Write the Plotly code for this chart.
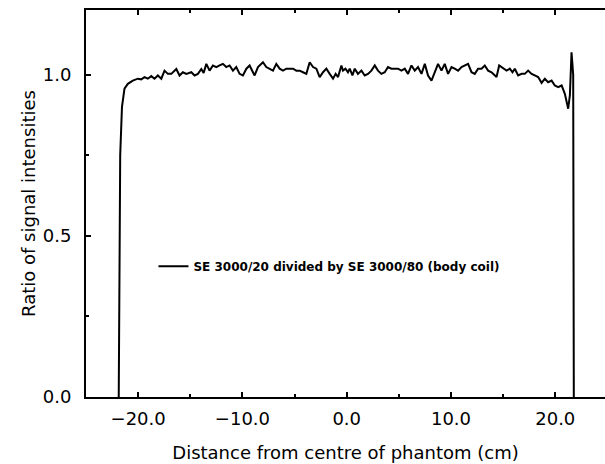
import plotly.graph_objects as go

# Distance from centre of phantom (cm)
distance_cm = [
    -21.86, -21.72, -21.55, -21.31, -20.99, -20.51, -20.03, -19.70, -19.39, -19.07,
    -18.74, -18.43, -18.11, -17.78, -17.47, -17.15, -16.82, -16.34, -16.03, -15.71,
    -15.38, -14.90, -14.59, -14.27, -13.94, -13.72, -13.46,
    -13.15, -12.83, -12.50, -12.19, -11.87, -11.55, -11.23, -10.91, -10.59, -10.27,
    -9.95, -9.62, -9.31, -8.99, -8.83, -8.51, -8.03, -7.71, -7.39, -7.07,
    -6.75, -6.43, -6.11, -5.79, -5.47, -5.15, -4.83,
    -4.51, -4.19, -3.87, -3.55, -3.23, -2.91, -2.59, -2.27, -1.95, -1.63,
    -1.31, -1.06, -0.83, -0.51, -0.36, -0.12, 0.12, 0.29, 0.55, 0.77,
    1.08, 1.41, 1.73, 2.04, 2.37, 2.69, 3.00, 3.33, 3.65, 3.96, 4.29,
    4.61, 4.92, 5.25, 5.57, 5.88, 6.21, 6.53, 6.84, 7.17, 7.49,
    7.80, 8.13, 8.45, 8.76, 9.09, 9.40, 9.72, 10.05, 10.36, 10.68,
    11.01, 11.32, 11.64, 11.97, 12.28, 12.60, 12.93, 13.24, 13.56,
    13.89, 14.04, 14.37, 14.62, 15.00, 15.33, 15.64, 15.90, 16.12, 16.44,
    16.77, 17.08, 17.40, 17.73, 18.04, 18.36, 18.69, 19.00, 19.32, 19.65,
    19.96, 20.28, 20.61, 20.92, 21.24, 21.40, 21.56, 21.72, 21.78,
]

# Ratio of signal intensities: SE 3000/20 divided by SE 3000/80
ratio = [
    0.000, 0.750, 0.900, 0.956, 0.971, 0.981, 0.987, 0.985, 0.992, 0.987,
    0.995, 0.987, 0.997, 0.987, 1.012, 1.002, 1.002, 1.017, 0.997, 1.007,
    1.002, 1.007, 0.997, 1.002, 1.017, 1.005, 1.033,
    1.012, 1.028, 1.023, 1.028, 1.033, 1.023, 1.028, 1.012, 1.023, 1.002,
    0.997, 1.018, 1.028, 1.007, 0.997, 1.023, 1.038, 1.023, 1.018, 1.012,
    1.033, 1.018, 1.012, 1.018, 1.018, 1.018, 1.012,
    1.012, 1.007, 1.002, 1.038, 1.023, 1.018, 0.992, 1.007, 1.018, 1.002,
    0.987, 1.002, 0.992, 1.028, 1.012, 1.018, 1.007, 1.018, 0.997, 1.018,
    1.002, 1.012, 0.997, 1.002, 1.012, 1.028, 1.012, 1.002, 1.007, 1.023, 1.018,
    1.018, 1.018, 1.012, 1.018, 1.002, 1.028, 1.012, 1.023, 1.002, 1.033,
    0.997, 0.981, 1.007, 1.033, 1.012, 1.033, 1.002, 1.023, 1.018, 1.012,
    1.023, 1.028, 1.033, 1.007, 1.002, 1.018, 1.018, 1.028, 1.012,
    1.007, 1.002, 0.992, 1.028, 1.018, 1.012, 1.018, 1.007, 1.018, 0.997,
    1.002, 1.002, 1.012, 1.002, 0.997, 0.992, 0.974, 0.987, 0.976, 0.981,
    0.966, 0.961, 0.966, 0.940, 0.894, 0.935, 1.069, 1.000, 0.000,
]

series_name = "SE 3000/20 divided by SE 3000/80 (body coil)"
x_tick_vals = [-20, -10, 0, 10, 20]
x_tick_text = ["\u221220.0", "\u221210.0", "0.0", "10.0", "20.0"]
y_tick_vals = [0.0, 0.5, 1.0]
y_tick_text = ["0.0", "0.5", "1.0"]

FONT = "DejaVu Sans"

fig = go.Figure()
fig.add_trace(go.Scatter(
    x=distance_cm, y=ratio, mode="lines", name=series_name,
    line=dict(color="black", width=2),
    showlegend=True,
))

fig.update_layout(
    width=605, height=464,
    margin=dict(l=86, r=0, t=10, b=67, autoexpand=False),
    paper_bgcolor="white", plot_bgcolor="white",
    font=dict(family=FONT, size=17, color="black"),
    showlegend=True,
    legend=dict(
        x=0.13, y=0.338, xanchor="left", yanchor="middle",
        bgcolor="rgba(0,0,0,0)",
        font=dict(family=FONT, size=12, color="black", weight="bold"),
    ),
)

fig.update_xaxes(
    range=[-25, 24.77], automargin=False,
    showgrid=False, zeroline=False,
    showline=True, linecolor="black", linewidth=2, mirror="allticks",
    ticks="inside", ticklen=5, tickwidth=1.5, tickcolor="black",
    tickvals=x_tick_vals, ticktext=x_tick_text,
    ticklabelstandoff=4,
    minor=dict(dtick=5, tick0=0, ticks="inside", ticklen=3, tickwidth=1.5, tickcolor="black", showgrid=False),
    tickfont=dict(family=FONT, size=18),
    title=dict(text="Distance from centre of phantom (cm)", font=dict(family=FONT, size=18), standoff=19),
)

fig.update_yaxes(
    range=[0, 1.2], automargin=False,
    showgrid=False, zeroline=False,
    showline=True, linecolor="black", linewidth=2, mirror=False,
    ticks="inside", ticklen=5, tickwidth=1.5, tickcolor="black",
    tickvals=y_tick_vals, ticktext=y_tick_text,
    ticklabelstandoff=9,
    minor=dict(dtick=0.25, tick0=0, ticks="inside", ticklen=3, tickwidth=1.5, tickcolor="black", showgrid=False),
    tickfont=dict(family=FONT, size=18),
    title=dict(text="Ratio of signal intensities", font=dict(family=FONT, size=18), standoff=2),
)

fig.write_html(
    "out.html",
    config={"displayModeBar": False},
    post_script="document.body.style.margin='0';document.body.style.overflow='hidden';",
)
